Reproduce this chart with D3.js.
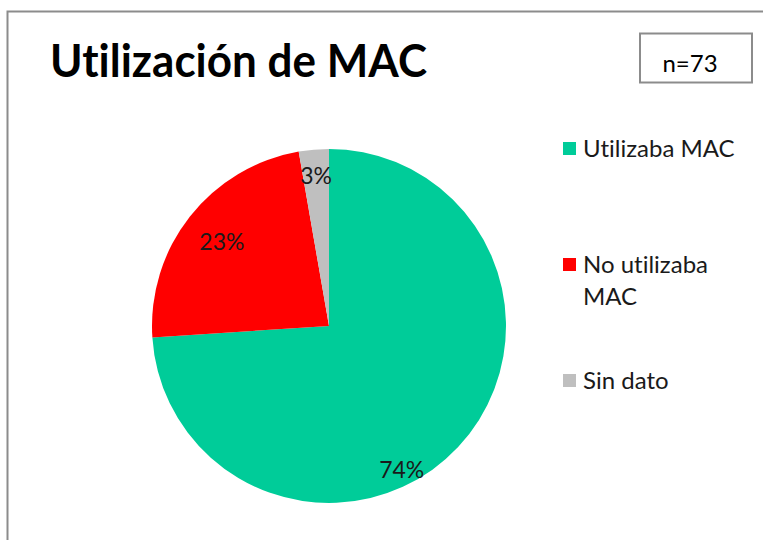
<!DOCTYPE html>
<html>
<head>
<meta charset="utf-8">
<script src="https://cdn.jsdelivr.net/npm/d3@7"></script>
<style>
    body { margin: 0; background: #fff; }
    text {
        font-family: Lato, "Liberation Sans", Arial, sans-serif;
        font-variant-ligatures: none;
        font-feature-settings: "liga" 0, "clig" 0;
        fill: #000;
    }
</style>
</head>
<body>
<div id="chart"></div>
<script>
"use strict";

// datos del gráfico (n = 73)
const categories = ["Utilizaba MAC", "No utilizaba MAC", "Sin dato"];
const counts = [54, 17, 2];
const percentLabels = ["74%", "23%", "3%"];
const legendLines = [["Utilizaba MAC"], ["No utilizaba", "MAC"], ["Sin dato"]];
const colors = ["#00cc99", "#ff0000", "#bfbfbf"];
const titleText = "Utilización de MAC";
const sampleText = "n=73";

const width = 763, height = 540;
const cx = 329, cy = 326, radius = 177;

const svg = d3.select("#chart").append("svg")
    .attr("width", width)
    .attr("height", height);

// marco del área del gráfico (sigue fuera de la imagen a la derecha y abajo)
svg.append("rect")
    .attr("x", 7.5).attr("y", 11.5)
    .attr("width", 820).attr("height", 600)
    .style("fill", "none")
    .style("stroke", "#8c8c8c")
    .style("stroke-width", 2);

svg.append("text")
    .attr("x", 50).attr("y", 77)
    .attr("textLength", 377)
    .attr("lengthAdjust", "spacingAndGlyphs")
    .style("font-size", "46px")
    .style("font-weight", "bold")
    .text(titleText);

// caja n=73
svg.append("rect")
    .attr("x", 640).attr("y", 33.5)
    .attr("width", 112).attr("height", 49)
    .style("fill", "#fff")
    .style("stroke", "#8c8c8c")
    .style("stroke-width", 2);

svg.append("text")
    .attr("x", 690).attr("y", 72)
    .attr("text-anchor", "middle")
    .style("font-size", "24px")
    .text(sampleText);

const pie = d3.pie().sort(null).value(d => d)(counts);
const arc = d3.arc().innerRadius(0).outerRadius(radius);

const g = svg.append("g").attr("transform", `translate(${cx},${cy})`);

g.selectAll("path")
    .data(pie)
    .enter().append("path")
    .attr("d", arc)
    .style("fill", (d, i) => colors[i]);

// posición de etiquetas (ajuste tipo "mejor ajuste" de Excel)
const labelShift = [
    { da: 20, r: 0.91 },
    { da: 0, r: 0.77 },
    { da: 0, r: 0.85 }
];

g.selectAll(".pct")
    .data(pie)
    .enter().append("text")
    .attr("class", "pct")
    .attr("transform", (d, i) => {
        let a = (d.startAngle + d.endAngle) / 2 + labelShift[i].da * Math.PI / 180;
        let r = radius * labelShift[i].r;
        return `translate(${r * Math.sin(a)},${-r * Math.cos(a)})`;
    })
    .attr("text-anchor", "middle")
    .attr("dy", "0.36em")
    .style("font-size", "23px")
    .style("fill", "#1a1a1a")
    .text((d, i) => percentLabels[i]);

// leyenda
const legendY = d3.scalePoint().domain(categories).range([149, 381]);

const legend = svg.selectAll(".legend")
    .data(categories)
    .enter().append("g")
    .attr("class", "legend")
    .attr("transform", d => `translate(563,${legendY(d)})`);

legend.append("rect")
    .attr("x", 0).attr("y", -7)
    .attr("width", 13).attr("height", 13)
    .style("fill", (d, i) => colors[i]);

legend.append("text")
    .attr("x", 20).attr("y", 8)
    .style("font-size", "24px")
    .style("fill", "#1a1a1a")
    .selectAll("tspan")
    .data((d, i) => legendLines[i])
    .enter().append("tspan")
    .attr("x", 20)
    .attr("dy", (d, j) => j === 0 ? 0 : 32)
    .text(d => d);
</script>
</body>
</html>
